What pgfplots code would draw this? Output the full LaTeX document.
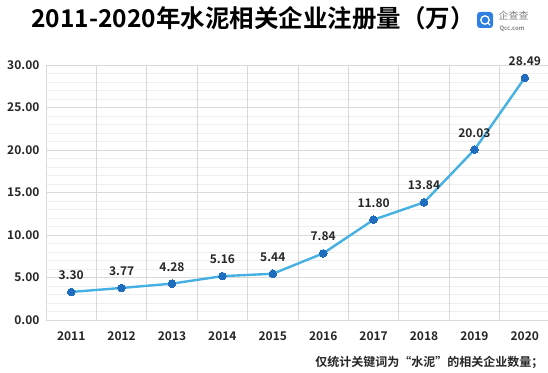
\documentclass[border=0pt]{standalone}
\usepackage{pgfplots}
\pgfplotsset{compat=1.18}
\usepackage{pgfplotstable}
\usepackage{fontspec}
\setmainfont{Noto Sans CJK SC}[BoldFont={Noto Sans CJK SC Bold}]
\definecolor{linec}{HTML}{45B0E1}
\definecolor{markc}{HTML}{1F6DBF}
\definecolor{logoc}{HTML}{2F7FE0}
\definecolor{gridmaj}{HTML}{D9D9D9}
\definecolor{gridmin}{HTML}{EEEEEE}
\definecolor{txt}{HTML}{262626}
\pgfplotstableread{
x y lab
0 3.30 3.30
1 3.77 3.77
2 4.28 4.28
3 5.16 5.16
4 5.44 5.44
5 7.84 7.84
6 11.80 11.80
7 13.84 13.84
8 20.03 20.03
9 28.49 28.49
}\datatable
\begin{document}
\begin{tikzpicture}[x=1pt,y=1pt]
\useasboundingbox (0,0) rectangle (548,372);
\begin{axis}[
  at={(46pt,52pt)}, anchor=south west,
  scale only axis, width=502pt, height=255pt,
  xmin=-0.5, xmax=9.46, ymin=0, ymax=30,
  axis line style={draw=none},
  major tick length=0pt, minor tick length=0pt,
  xtick={0,...,9},
  xticklabels={2011,2012,2013,2014,2015,2016,2017,2018,2019,2020},
  ytick={0,5,...,30},
  yticklabels={0.00,5.00,10.00,15.00,20.00,25.00,30.00},
  minor y tick num=4,
  ymajorgrids, yminorgrids,
  major grid style={gridmaj, line width=0.8pt},
  minor grid style={gridmin, line width=0.6pt},
  extra x ticks={-0.5,0.5,1.5,2.5,3.5,4.5,5.5,6.5,7.5,8.5},
  extra x tick labels={},
  extra x tick style={grid=major, major grid style={gridmaj, line width=0.8pt}},
  ticklabel style={font=\fontsize{12}{14}\selectfont\bfseries, text=txt},
  xticklabel style={yshift=-8pt},
  yticklabel style={xshift=-3pt},
  clip=false,
]
\addplot[linec, line width=2.4pt, mark=*, mark size=3.8pt,
  mark options={fill=markc, draw=markc, line width=0pt, solid},
  nodes near coords, point meta=explicit symbolic,
  every node near coord/.append style={font=\fontsize{12}{14}\selectfont\bfseries, text=txt, yshift=9pt}]
  table[x=x, y=y, meta=lab]{\datatable};
\end{axis}
\node[font=\fontsize{24.5}{28}\selectfont\bfseries, text=black] at (253,354) {2011-2020年水泥相关企业注册量（万）};
% logo
\fill[logoc, rounded corners=3pt] (477,344) rectangle (493,360);
\draw[white, line width=1.3pt] (485,352) circle (4.2pt);
\draw[white, line width=1.3pt] (487.5,349.5) -- (490,347);
\node[font=\fontsize{10}{11}\selectfont, text=gray, anchor=west] at (495,356) {企查查};
\node[font=\fontsize{6}{7}\selectfont\bfseries, text=gray, anchor=west] at (496,343.5) {Qcc.com};
\node[font=\fontsize{12}{14}\selectfont\bfseries, text=txt, anchor=east] at (547,10) {仅统计关键词为“水泥”的相关企业数量；};
\end{tikzpicture}
\end{document}
